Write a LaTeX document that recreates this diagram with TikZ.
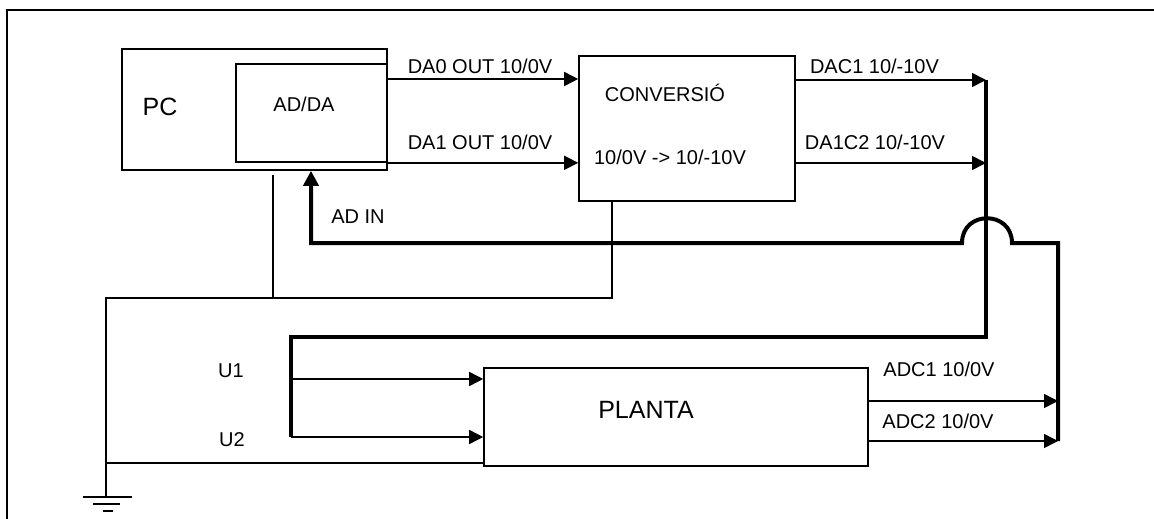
\documentclass[tikz,border=0pt]{standalone}
\usepackage{fontspec}
\setmainfont{Liberation Sans}
\usetikzlibrary{arrows.meta}
\begin{document}
\begin{tikzpicture}[x=1pt,y=-1pt,
  thinw/.style={line width=1.6pt},
  thickw/.style={line width=4pt},
  box/.style={draw,line width=1.6pt,rectangle,inner sep=0pt},
  lbl/.style={inner sep=0pt,anchor=center,font=\fontsize{20}{24}\selectfont},
  big/.style={inner sep=0pt,anchor=center,font=\fontsize{25}{30}\selectfont},
  arr/.style={-{Triangle[length=14pt,width=14pt]}},
  bigarr/.style={-{Triangle[length=15pt,width=15pt]}}]
\useasboundingbox (0,0) rectangle (1154,519);
% frame
\draw[line width=2pt] (7,519) -- (7,10) -- (1154,10);
% blocks
\node[box,minimum width=265pt,minimum height=121pt] (pc) at (254.5,109.5) {};
\node[box,minimum width=151pt,minimum height=98pt] (adda) at (311.5,113) {};
\node[box,minimum width=216pt,minimum height=145pt] (conv) at (687,128.5) {};
\node[box,minimum width=384pt,minimum height=98pt] (planta) at (676,417) {};
% block texts
\node[big] (pct) at (160,107) {PC};
\node[lbl] (addat) at (304,104) {AD/DA};
\node[lbl] (convt1) at (665,93) {CONVERSIÓ};
\node[lbl] (convt2) at (670,157) {10/0V -> 10/-10V};
\node[big] (plantat) at (646,410) {PLANTA};
% coordinates
\coordinate (busA) at (986,80);
\coordinate (busB) at (986,163);
\coordinate (busC) at (986,337);
\coordinate (busD) at (291,337);
\coordinate (busE) at (291,437);
\coordinate (busU1) at (291,379);
\coordinate (rbA) at (1058,401);
\coordinate (rbB) at (1058,441);
\coordinate (rbTop) at (1058,243);
\coordinate (bumpR) at (1012,243);
\coordinate (bumpL) at (962,243);
\coordinate (adin) at (311,243);
\coordinate (gA) at (612,298);
\coordinate (gB) at (106,298);
\coordinate (gC) at (273,298);
\coordinate (gP) at (106,463);
\coordinate (gnd) at (106,497);
% DA outputs
\draw[thinw,arr] (adda.east |- 0,79) -- (conv.west |- 0,79);
\draw[thinw,arr] (adda.south east) -- (conv.west |- adda.south east);
\node[lbl] (l1) at (480,66) {DA0 OUT 10/0V};
\node[lbl] (l2) at (480,142) {DA1 OUT 10/0V};
% conversion outputs
\draw[thinw,arr] (conv.east |- busA) -- (busA);
\draw[thinw,arr] (conv.east |- busB) -- (busB);
\node[lbl] (l3) at (874.5,66) {DAC1 10/-10V};
\node[lbl] (l4) at (875,142) {DA1C2 10/-10V};
% thick bus to planta inputs
\draw[thickw] (busA) -- (busC) -- (busD) -- (busE);
\draw[thinw,arr] (busU1) -- (planta.west |- busU1);
\draw[thinw,arr] (busE) -- (planta.west |- busE);
\node[lbl] (u1) at (231,371) {U1};
\node[lbl] (u2) at (232,440) {U2};
% planta outputs
\draw[thinw,arr] (planta.east |- rbA) -- (rbA);
\draw[thinw,arr] (planta.east |- rbB) -- (rbB);
\node[lbl] (l5) at (939,369) {ADC1 10/0V};
\node[lbl] (l6) at (938,421) {ADC2 10/0V};
% return bus to AD IN
\draw[thickw,bigarr] (rbB) -- (rbTop) -- (bumpR)
  .. controls (1012,210) and (962,210) .. (bumpL) -- (adin) -- (pc.south -| adin);
\node[lbl] (l7) at (358,217) {AD IN};
% ground wiring
\draw[thinw] (conv.south -| gA) -- (gA) -- (gB) -- (gnd);
\draw[thinw,shorten <=4pt] (pc.south -| gC) -- (gC);
\draw[thinw] (gP) -- (planta.west |- gP);
% ground symbol
\draw[line width=2pt] (83,497) -- (132,497);
\draw[line width=2pt] (93,504) -- (120,504);
\draw[line width=2pt] (103,511) -- (113,511);
\end{tikzpicture}
\end{document}
